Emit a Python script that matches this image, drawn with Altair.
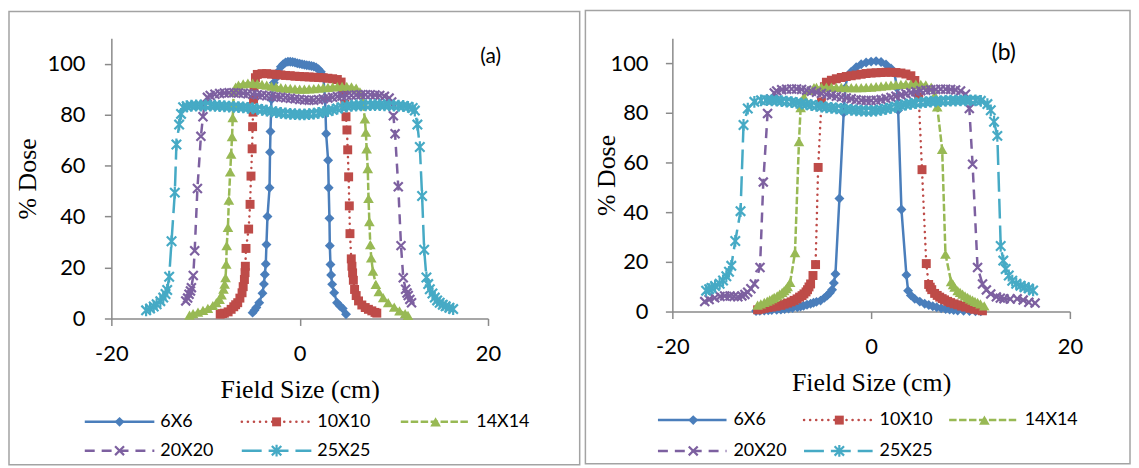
import altair as alt
import pandas as pd

SERIES = ["6X6", "10X10", "14X14", "20X20", "25X25"]
COLORS = ["#4A7EBB", "#BE4B48", "#98B954", "#7D60A0", "#46AAC5"]
X_TICKS = [-20, 0, 20]
Y_TICKS = [0, 20, 40, 60, 80, 100]

# ---------------- panel (a) ----------------
A_6X6_X = [-5.0, -4.8, -4.6, -4.3, -3.95, -3.8, -3.7, -3.6, -3.53, -3.42, -3.2, -3.15, -3.1, -3.0, -2.75, -2.5, -2.25, -2.0, -1.75, -1.5, -1.25, -1.0, -0.75, -0.5, -0.25, 0.0, 0.25, 0.5, 0.75, 1.0, 1.25, 1.5, 1.75, 2.0, 2.25, 2.5, 2.7, 2.81, 3.02, 3.08, 3.16, 3.2, 3.27, 3.34, 3.45, 3.66, 3.97, 4.25, 4.57, 4.92]
A_6X6_Y = [2.3, 3.2, 4.3, 6.2, 9.9, 13.5, 17.3, 21.4, 29.0, 40.0, 51.3, 65.3, 73.4, 86.0, 92.5, 94.5, 97.0, 98.8, 99.8, 100.5, 100.8, 100.8, 100.7, 100.5, 100.2, 100.0, 99.8, 99.6, 99.4, 99.3, 99.1, 98.9, 98.5, 97.8, 96.8, 95.2, 86.0, 72.5, 62.1, 51.3, 39.3, 28.6, 21.2, 17.1, 13.4, 10.1, 6.2, 5.0, 3.9, 1.7]

A_10X10_X = [-8.44, -8.2, -8.0, -7.6, -7.28, -7.0, -6.8, -6.58, -6.35, -6.12, -6.0, -5.87, -5.8, -5.77, -5.7, -5.42, -5.27, -5.17, -5.05, -5.0, -4.95, -4.9, -4.85, -4.7, -4.5, -4.0, -3.5, -3.0, -2.5, -2.0, -1.5, -1.0, -0.5, 0.0, 0.5, 1.0, 1.5, 2.0, 2.5, 3.0, 3.5, 4.0, 4.4, 4.65, 4.8, 4.92, 5.02, 5.1, 5.2, 5.27, 5.34, 5.48, 5.55, 5.62, 5.7, 5.83, 6.0, 6.25, 6.6, 6.96, 7.3, 7.66, 8.0, 8.19]
A_10X10_Y = [1.7, 1.9, 2.1, 2.6, 3.6, 4.6, 5.4, 6.2, 8.0, 10.1, 12.5, 15.3, 18.0, 20.5, 27.5, 35.1, 44.8, 55.9, 66.6, 75.3, 81.0, 86.0, 91.0, 94.5, 95.8, 96.1, 96.1, 95.9, 95.8, 95.6, 95.4, 95.3, 95.1, 95.0, 94.9, 94.8, 94.7, 94.6, 94.5, 94.3, 94.1, 93.8, 92.8, 89.0, 84.0, 79.2, 74.0, 66.2, 55.6, 44.2, 33.3, 23.4, 20.5, 17.9, 15.0, 11.4, 9.0, 6.9, 5.3, 4.3, 3.6, 3.0, 2.4, 2.1]

A_14X14_X = [-11.7, -11.32, -10.8, -10.27, -9.75, -9.22, -8.85, -8.51, -8.3, -8.09, -7.97, -7.87, -7.8, -7.75, -7.62, -7.52, -7.38, -7.28, -7.18, -7.11, -7.05, -7.0, -6.8, -6.5, -6.0, -5.5, -5.0, -4.5, -4.0, -3.5, -3.0, -2.5, -2.0, -1.5, -1.0, -0.5, 0.0, 0.5, 1.0, 1.5, 2.0, 2.5, 3.0, 3.5, 4.0, 4.5, 5.0, 5.5, 6.0, 6.4, 6.7, 6.92, 7.03, 7.11, 7.23, 7.31, 7.4, 7.5, 7.6, 7.78, 8.09, 8.4, 8.87, 9.4, 10.04, 10.6, 11.2, 11.5]
A_14X14_Y = [1.3, 1.9, 2.5, 3.2, 4.0, 5.1, 6.2, 7.5, 9.3, 11.5, 13.5, 16.0, 21.3, 28.6, 35.8, 46.5, 57.5, 64.5, 71.4, 78.8, 84.2, 89.0, 90.8, 91.6, 92.1, 92.4, 92.4, 92.2, 91.9, 91.6, 91.2, 90.9, 90.6, 90.4, 90.3, 90.1, 90.0, 90.0, 90.1, 90.2, 90.4, 90.6, 90.7, 90.9, 91.0, 91.1, 91.1, 90.9, 90.4, 89.0, 85.0, 78.3, 73.1, 66.6, 58.8, 47.1, 38.0, 29.0, 23.8, 18.6, 13.4, 10.5, 8.2, 6.2, 4.5, 3.0, 1.9, 1.2]

A_20X20_X = [-12.1, -11.9, -11.75, -11.6, -11.5, -11.3, -11.15, -10.86, -10.49, -10.27, -10.1, -9.8, -9.5, -9.0, -8.5, -8.0, -7.5, -7.0, -6.5, -6.0, -5.5, -5.0, -4.5, -4.0, -3.5, -3.0, -2.5, -2.0, -1.5, -1.0, -0.5, 0.0, 0.5, 1.0, 1.5, 2.0, 2.5, 3.0, 3.5, 4.0, 4.5, 5.0, 5.5, 6.0, 6.5, 7.0, 7.5, 8.0, 8.5, 9.0, 9.5, 9.77, 9.95, 10.13, 10.47, 10.76, 11.0, 11.25, 11.4, 11.53, 11.7, 11.88]
A_20X20_Y = [6.9, 8.0, 9.5, 10.8, 12.1, 16.9, 26.6, 51.0, 71.5, 79.2, 84.0, 86.8, 87.5, 88.0, 88.3, 88.5, 88.6, 88.6, 88.5, 88.4, 88.2, 88.0, 87.8, 87.6, 87.4, 87.2, 87.0, 86.8, 86.6, 86.4, 86.2, 86.0, 85.8, 85.7, 85.7, 85.9, 86.2, 86.5, 86.8, 87.1, 87.3, 87.5, 87.6, 87.7, 87.8, 87.8, 87.8, 87.7, 87.5, 87.2, 86.5, 85.0, 79.6, 72.5, 51.7, 28.6, 16.0, 11.5, 10.0, 9.0, 7.5, 6.2]

A_25X25_X = [-16.31, -15.89, -15.5, -15.19, -14.8, -14.49, -14.25, -14.07, -13.86, -13.61, -13.26, -13.09, -12.8, -12.6, -12.38, -12.0, -11.5, -11.0, -10.5, -10.0, -9.5, -9.0, -8.5, -8.0, -7.5, -7.0, -6.5, -6.0, -5.5, -5.0, -4.5, -4.0, -3.5, -3.0, -2.5, -2.0, -1.5, -1.0, -0.5, 0.0, 0.5, 1.0, 1.5, 2.0, 2.5, 3.0, 3.5, 4.0, 4.5, 5.0, 5.5, 6.0, 6.5, 7.0, 7.5, 8.0, 8.5, 9.0, 9.5, 10.0, 10.5, 11.0, 11.5, 12.0, 12.23, 12.5, 12.76, 13.0, 13.22, 13.46, 13.65, 13.82, 14.1, 14.35, 14.6, 14.87, 15.2, 15.5, 15.9, 16.3]
A_25X25_Y = [3.2, 3.9, 4.7, 5.6, 6.8, 8.2, 9.6, 11.2, 16.4, 30.3, 49.4, 68.3, 76.1, 80.3, 82.9, 83.3, 83.5, 83.6, 83.6, 83.6, 83.6, 83.5, 83.4, 83.3, 83.2, 83.1, 83.0, 82.9, 82.7, 82.5, 82.2, 81.9, 81.6, 81.3, 81.0, 80.7, 80.5, 80.3, 80.2, 80.1, 80.1, 80.2, 80.4, 80.7, 81.0, 81.4, 81.9, 82.4, 82.9, 83.3, 83.5, 83.6, 83.7, 83.7, 83.8, 83.8, 83.8, 83.7, 83.7, 83.6, 83.5, 83.4, 83.1, 82.6, 81.6, 76.1, 67.3, 48.1, 27.0, 16.1, 13.5, 11.5, 9.8, 8.2, 7.1, 6.2, 5.4, 4.8, 4.2, 3.7]

# ---------------- panel (b) ----------------
B_6X6_X = [-11.58, -11.2, -10.75, -10.35, -10.0, -9.5, -9.08, -8.7, -8.3, -7.9, -7.42, -7.1, -6.8, -6.45, -6.09, -5.8, -5.5, -5.09, -4.7, -4.43, -4.15, -3.93, -3.75, -3.59, -3.19, -2.76, -2.6, -2.4, -2.0, -1.5, -1.0, -0.5, 0.0, 0.5, 1.0, 1.5, 2.0, 2.35, 2.6, 2.72, 3.05, 3.55, 3.72, 4.0, 4.39, 4.9, 5.39, 5.8, 6.2, 6.6, 7.05, 7.5, 7.9, 8.3, 8.71, 9.3, 9.9, 10.5, 11.04]
B_6X6_Y = [0.2, 0.3, 0.4, 0.5, 0.6, 0.7, 0.8, 1.0, 1.2, 1.4, 1.7, 2.0, 2.3, 2.7, 3.1, 3.5, 3.9, 4.4, 5.5, 6.4, 7.6, 8.8, 11.5, 15.1, 45.5, 80.0, 90.0, 94.5, 96.5, 98.3, 99.5, 100.2, 100.6, 100.8, 100.4, 99.4, 97.8, 96.0, 90.0, 81.0, 41.1, 14.7, 8.4, 6.5, 5.1, 4.0, 3.1, 2.6, 2.1, 1.7, 1.3, 1.0, 0.8, 0.6, 0.4, 0.3, 0.2, 0.15, 0.1]

B_10X10_X = [-11.42, -11.1, -10.75, -10.4, -10.0, -9.55, -9.08, -8.75, -8.4, -8.05, -7.75, -7.45, -7.2, -6.95, -6.76, -6.55, -6.4, -6.25, -6.09, -5.85, -5.59, -5.33, -5.0, -4.7, -4.5, -4.0, -3.5, -3.0, -2.5, -2.0, -1.5, -1.0, -0.5, 0.0, 0.5, 1.0, 1.5, 2.0, 2.5, 3.0, 3.5, 4.0, 4.4, 4.79, 5.12, 5.55, 5.79, 5.95, 6.1, 6.39, 6.65, 6.9, 7.15, 7.39, 7.7, 8.0, 8.35, 8.71, 9.1, 9.5, 9.95, 10.38, 10.8, 11.2]
B_10X10_Y = [0.7, 1.0, 1.3, 1.6, 1.8, 2.1, 2.5, 3.0, 3.4, 3.9, 4.5, 5.1, 5.8, 6.4, 7.1, 7.9, 8.8, 9.9, 11.1, 14.5, 18.9, 58.0, 84.4, 90.5, 92.3, 93.1, 93.7, 94.2, 94.6, 94.9, 95.2, 95.5, 95.8, 96.0, 96.1, 96.2, 96.3, 96.3, 96.2, 96.0, 95.6, 94.9, 93.0, 86.4, 57.1, 19.3, 10.9, 9.8, 8.8, 7.3, 6.5, 5.8, 5.2, 4.7, 4.1, 3.6, 3.1, 2.7, 2.2, 1.8, 1.3, 0.9, 0.6, 0.3]

B_14X14_X = [-11.42, -11.1, -10.75, -10.45, -10.2, -9.95, -9.75, -9.45, -9.2, -8.95, -8.75, -8.55, -8.4, -8.15, -7.66, -7.26, -7.09, -6.76, -6.3, -5.75, -5.5, -5.0, -4.5, -4.0, -3.5, -3.0, -2.5, -2.0, -1.5, -1.0, -0.5, 0.0, 0.5, 1.0, 1.5, 2.0, 2.5, 3.0, 3.5, 4.0, 4.5, 5.0, 5.5, 6.05, 6.4, 6.65, 7.15, 7.48, 8.05, 8.25, 8.4, 8.71, 8.95, 9.2, 9.45, 9.71, 9.95, 10.2, 10.45, 10.71, 11.0, 11.38]
B_14X14_Y = [2.6, 3.1, 3.7, 4.2, 4.7, 5.2, 5.7, 6.3, 7.0, 7.7, 8.4, 9.2, 10.0, 11.7, 23.7, 68.4, 82.1, 86.4, 89.0, 90.1, 90.2, 90.3, 90.3, 90.3, 90.2, 90.2, 90.1, 90.1, 90.1, 90.1, 90.2, 90.3, 90.5, 90.7, 90.9, 91.1, 91.3, 91.4, 91.5, 91.5, 91.5, 91.4, 91.2, 90.3, 87.0, 82.4, 65.3, 23.1, 12.0, 10.8, 9.8, 8.4, 7.7, 7.0, 6.3, 5.7, 5.1, 4.6, 4.1, 3.7, 3.1, 2.3]

B_20X20_X = [-16.74, -16.3, -15.74, -15.2, -14.74, -14.2, -13.8, -13.41, -13.0, -12.7, -12.42, -12.1, -11.75, -11.18, -10.85, -10.42, -10.1, -9.75, -9.5, -9.0, -8.5, -8.0, -7.5, -7.0, -6.5, -6.0, -5.5, -5.0, -4.5, -4.0, -3.5, -3.0, -2.5, -2.0, -1.5, -1.0, -0.5, 0.0, 0.5, 1.0, 1.5, 2.0, 2.5, 3.0, 3.5, 4.0, 4.5, 5.0, 5.5, 6.0, 6.5, 7.0, 7.5, 8.0, 8.5, 9.0, 9.5, 9.88, 10.21, 10.71, 11.21, 11.6, 12.04, 12.6, 13.0, 13.37, 14.0, 14.7, 15.3, 15.87, 16.5]
B_20X20_Y = [4.0, 4.8, 5.5, 6.1, 6.3, 6.3, 6.1, 5.9, 6.3, 6.9, 7.8, 9.2, 11.1, 17.7, 52.1, 79.7, 85.5, 88.0, 88.8, 89.3, 89.5, 89.6, 89.6, 89.4, 89.1, 88.7, 88.3, 87.8, 87.4, 87.0, 86.6, 86.3, 86.0, 85.6, 85.2, 85.0, 84.9, 84.9, 85.0, 85.3, 85.7, 86.2, 86.7, 87.2, 87.7, 88.1, 88.5, 88.9, 89.1, 89.3, 89.4, 89.5, 89.5, 89.4, 89.2, 88.8, 87.5, 81.7, 59.3, 17.7, 11.1, 8.7, 7.1, 5.9, 5.4, 5.1, 5.0, 5.1, 4.6, 3.7, 3.4]

B_25X25_X = [-16.6, -16.3, -16.07, -15.7, -15.24, -14.9, -14.57, -14.3, -14.07, -13.67, -13.14, -12.84, -12.41, -11.75, -11.08, -10.5, -10.0, -9.5, -9.0, -8.5, -8.0, -7.5, -7.0, -6.5, -6.0, -5.5, -5.0, -4.5, -4.0, -3.5, -3.0, -2.5, -2.0, -1.5, -1.0, -0.5, 0.0, 0.5, 1.0, 1.5, 2.0, 2.5, 3.0, 3.5, 4.0, 4.5, 5.0, 5.5, 6.0, 6.5, 7.0, 7.5, 8.0, 8.5, 9.0, 9.5, 10.0, 10.5, 11.04, 11.7, 12.04, 12.37, 12.7, 13.04, 13.3, 13.54, 13.85, 14.2, 14.6, 15.03, 15.45, 15.87, 16.3]
B_25X25_Y = [8.4, 9.0, 9.5, 10.3, 11.2, 12.5, 14.2, 16.0, 18.4, 28.4, 40.4, 75.1, 81.7, 84.4, 85.0, 85.1, 85.0, 84.9, 84.7, 84.5, 84.3, 84.0, 83.7, 83.4, 83.1, 82.8, 82.5, 82.2, 82.0, 81.8, 81.6, 81.4, 81.2, 81.0, 80.9, 80.8, 80.8, 80.9, 81.2, 81.6, 82.0, 82.5, 82.9, 83.3, 83.6, 83.9, 84.1, 84.3, 84.5, 84.6, 84.7, 84.8, 84.9, 84.9, 85.0, 85.0, 85.0, 85.0, 84.8, 83.5, 81.0, 76.4, 70.7, 26.4, 20.5, 17.1, 14.5, 12.4, 11.2, 10.4, 9.8, 9.3, 8.5]

PANEL_A = {"6X6": (A_6X6_X, A_6X6_Y), "10X10": (A_10X10_X, A_10X10_Y),
           "14X14": (A_14X14_X, A_14X14_Y), "20X20": (A_20X20_X, A_20X20_Y),
           "25X25": (A_25X25_X, A_25X25_Y)}
PANEL_B = {"6X6": (B_6X6_X, B_6X6_Y), "10X10": (B_10X10_X, B_10X10_Y),
           "14X14": (B_14X14_X, B_14X14_Y), "20X20": (B_20X20_X, B_20X20_Y),
           "25X25": (B_25X25_X, B_25X25_Y)}

# ---------------- styles ----------------
GRAY = "#8a8a8a"
FRAME = "#a3a3a3"
X_PATH = "M-1,-1L1,1M-1,1L1,-1"
STAR_PATH = "M-1,-1L1,1M-1,1L1,-1M0,-1.25L0,1.25"
STYLE = {
    "6X6": dict(dash=None, cap="butt", shape="diamond", filled=True, size=100),
    "10X10": dict(dash=[0.1, 6], cap="round", shape="square", filled=True, size=81),
    "14X14": dict(dash=[7.5, 2.5], cap="butt", shape="triangle-up", filled=True, size=115),
    "20X20": dict(dash=[10, 7], cap="butt", shape=X_PATH, filled=False, size=81),
    "25X25": dict(dash=[20, 7], cap="butt", shape=STAR_PATH, filled=False, size=90),
}


def point_kw(name, color):
    st = STYLE[name]
    kw = dict(shape=st["shape"], size=st["size"], opacity=1, color=color, filled=st["filled"])
    if not st["filled"]:
        kw["strokeWidth"] = 2.2
    return kw


def line_kw(name, color):
    st = STYLE[name]
    kw = dict(color=color, strokeWidth=2.5, strokeCap=st["cap"])
    if st["dash"]:
        kw["strokeDash"] = st["dash"]
    return kw


def build_panel(data, W, H, lab_pad_x, lab_pad_y, ytitle_x, tag, tag_x, tag_y, tag_size,
                frame, legend_cols, legend_rows, line_len, mark_dx, text_dx):
    xs = alt.Scale(domain=[-20, 20], nice=False, zero=False)
    ys = alt.Scale(domain=[0, 110], nice=False, zero=False)
    common = dict(grid=False, domainColor=GRAY, domainWidth=1.5, tickColor=GRAY, tickWidth=1.5,
                  tickSize=7, labelFont="Lato", labelFontSize=22, labelColor="black",
                  titleFont="Liberation Serif", titleFontSize=26, titleFontWeight="normal",
                  titleColor="black", labelOverlap=False, labelFlush=False)
    x_axis = alt.Axis(values=X_TICKS, labelPadding=lab_pad_x, labelExpr="'' + datum.value",
                      title="Field Size (cm)", titleY=79.5, titleBaseline="alphabetic", **common)
    y_axis = alt.Axis(values=Y_TICKS, labelPadding=lab_pad_y, title="% Dose",
                      titleX=ytitle_x, titleBaseline="middle", **common)

    def xy():
        return dict(x=alt.X("x:Q", scale=xs, axis=x_axis), y=alt.Y("y:Q", scale=ys, axis=y_axis))

    plot_layers = []
    for name, color in zip(SERIES, COLORS):
        xv, yv = data[name]
        df = pd.DataFrame({"x": xv, "y": yv, "i": list(range(len(xv)))})
        plot_layers.append(alt.Chart(df).mark_line(**line_kw(name, color)).encode(order="i:Q", **xy()))
        plot_layers.append(alt.Chart(df).mark_point(**point_kw(name, color)).encode(**xy()))
    tag_df = pd.DataFrame({"x": [tag_x], "y": [tag_y], "t": [tag]})
    plot_layers.append(alt.Chart(tag_df).mark_text(font="Lato", fontSize=tag_size, color="black",
                                                   align="center", baseline="middle")
                       .encode(text="t:N", **xy()))

    lxs = alt.Scale(domain=[-1000, 1000], range=[-1000, 1000], nice=False, zero=False)
    lys = alt.Scale(domain=[-1000, 1000], range=[-1000, 1000], nice=False, zero=False)
    leg_layers = []
    fdf = pd.DataFrame({"a": [0]})
    leg_layers.append(alt.Chart(fdf).mark_rect(fillOpacity=0, stroke=FRAME, strokeWidth=1.5)
                      .encode(x=alt.value(frame[0]), x2=alt.value(frame[1]),
                              y=alt.value(frame[2]), y2=alt.value(frame[3])))
    for k, (name, color) in enumerate(zip(SERIES, COLORS)):
        c0 = legend_cols[k % 3]
        ry = legend_rows[k // 3]
        ldf = pd.DataFrame({"x0": [c0], "x1": [c0 + line_len], "xm": [c0 + mark_dx],
                            "xt": [c0 + text_dx], "ry": [ry], "label": [name]})
        yenc = alt.Y("ry:Q", scale=lys, axis=None)
        leg_layers.append(alt.Chart(ldf).mark_rule(**line_kw(name, color))
                          .encode(x=alt.X("x0:Q", scale=lxs, axis=None), x2="x1:Q", y=yenc))
        leg_layers.append(alt.Chart(ldf).mark_point(**point_kw(name, color))
                          .encode(x=alt.X("xm:Q", scale=lxs, axis=None), y=yenc))
        leg_layers.append(alt.Chart(ldf).mark_text(font="Lato", fontSize=18, color="black",
                                                   align="left", baseline="middle")
                          .encode(x=alt.X("xt:Q", scale=lxs, axis=None), y=yenc, text="label:N"))

    return (alt.layer(alt.layer(*plot_layers), alt.layer(*leg_layers))
            .resolve_scale(x="independent", y="independent")
            .properties(width=W, height=H))


panel_a = build_panel(PANEL_A, 379, 282, 18.5, 19.5, -84, "(a)", 20.29, 102.5, 21,
                      frame=(-103, 471.25, -27, 429.25),
                      legend_cols=[-26.75, 131.25, 291.25], legend_rows=[386, 415],
                      line_len=70, mark_dx=35, text_dx=76)
panel_b = build_panel(PANEL_B, 400, 275, 18, 17.5, -66.5, "(b)", 13.35, 103.9, 23,
                      frame=(-87.5, 460.5, -28, 428.25),
                      legend_cols=[-14.5, 132.5, 278.5], legend_rows=[384.25, 415.25],
                      line_len=69, mark_dx=35.5, text_dx=76)

chart = (alt.hconcat(panel_a, panel_b, spacing=3.5)
         .properties(padding=0, background="white")
         .configure_view(strokeWidth=0))

chart.save("out.html", embed_options={"renderer": "svg", "actions": False})
